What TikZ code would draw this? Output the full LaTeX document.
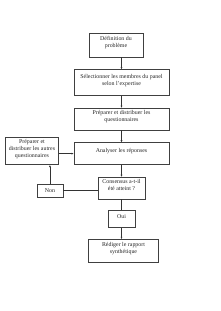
\documentclass[tikz,border=0pt]{standalone}
\usepackage{fontspec}
\setmainfont{Liberation Serif}
\usetikzlibrary{arrows.meta,positioning}

\begin{document}
\begin{tikzpicture}[>={Latex[length=2.2pt,width=2pt]},font=\fontsize{5.9}{7}\selectfont,node distance=12pt]
 \tikzset{plainbox/.style={draw=black!75,line width=0.55pt,align=center,inner xsep=1pt,inner ysep=1pt,text=black!85},
          box/.style={plainbox,execute at end node={\rule[-6pt]{0pt}{6pt}}},
          arr/.style={->,black!80,line width=0.5pt},
          lin/.style={black!80,line width=0.5pt}}
 \useasboundingbox (0,0) rectangle (220pt,-311pt);
 \node[box,minimum width=54pt,minimum height=24pt] (def) at (116pt,-45pt) {D\'efinition du\\probl\`eme};
 \node[box,minimum width=95pt,minimum height=26pt,below=of def,xshift=5.5pt] (panel) {S\'electionner les membres du panel\\selon l'expertise};
 \node[box,minimum width=95pt,minimum height=22pt,below=of panel] (prep) {Pr\'eparer et distribuer les\\questionnaires};
 \node[box,minimum width=95pt,minimum height=22pt,below=of prep] (analyse) {Analyser les r\'eponses};
 \node[box,minimum width=47pt,minimum height=22pt,below=of analyse] (cons) {Consensus a-t-il\\\'et\'e atteint ?};
 \node[box,minimum width=27pt,minimum height=17pt,below=11pt of cons] (oui) {Oui};
 \node[box,minimum width=70pt,minimum height=23pt,below=11pt of oui,xshift=2pt] (rapport) {R\'ediger le rapport\\synth\'etique};
 \node[box,minimum width=53pt,minimum height=27pt,left=15pt of analyse,yshift=2.5pt] (autres) {Pr\'eparer et\\distribuer les autres\\questionnaires};
 \node[plainbox,minimum width=26pt,minimum height=13pt,below=19pt of autres,xshift=18pt] (non) {Non};
 \draw[arr] (def.south -| panel.north) -- (panel.north);
 \draw[arr] (panel) -- (prep);
 \draw[arr] (prep) -- (analyse);
 \draw[arr] (analyse) -- (cons);
 \draw[lin] (cons) -- (oui);
 \draw[arr] (oui.south) -- (oui.south |- rapport.north);
 \draw[lin] (non.east) -- (non.east -| cons.west);
 \draw[arr] (non.north) -- (non.north |- autres.south);
 \draw[arr] (autres.east |- analyse.west) -- (analyse.west);
\end{tikzpicture}
\end{document}
